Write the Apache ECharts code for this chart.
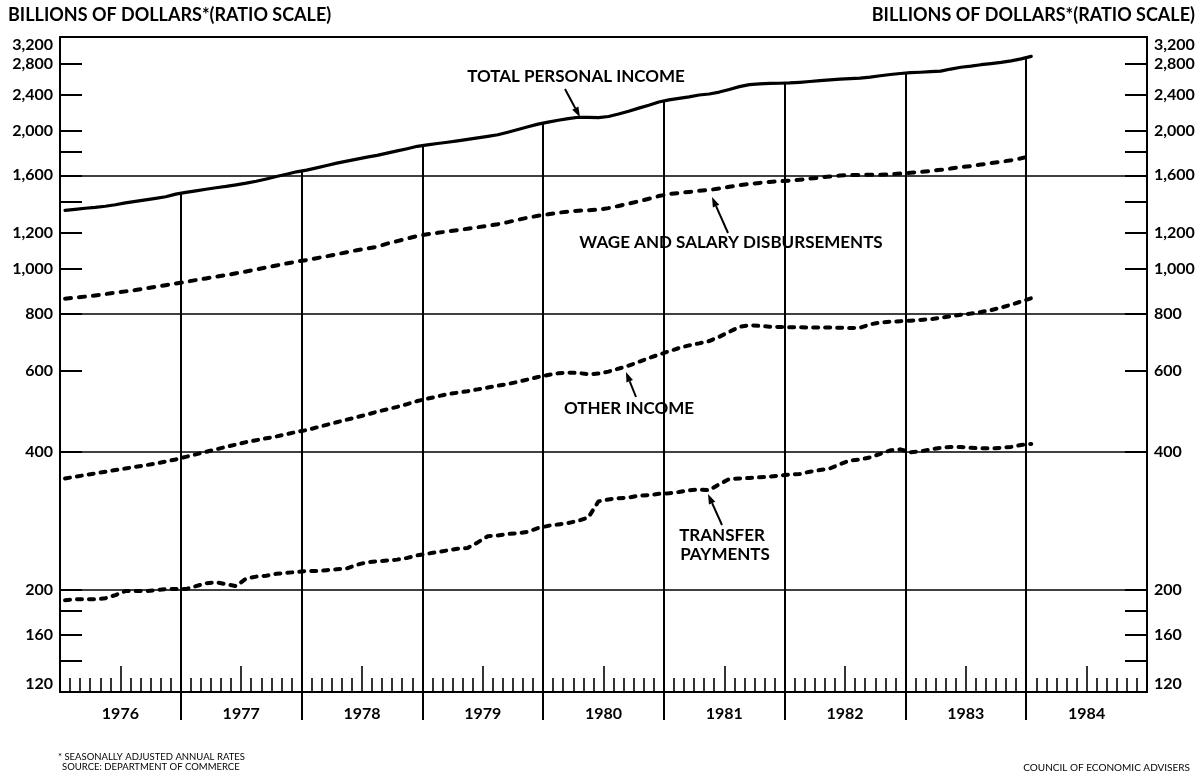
<!DOCTYPE html>
<html><head><meta charset="utf-8">
<script src="https://cdn.jsdelivr.net/npm/echarts@6/dist/echarts.min.js"></script>
<style>html,body{margin:0;padding:0;background:#fff}#c{width:1203px;height:774px}</style>
</head><body><div id="c"></div>
<script>
// ---- DATA (monthly, seasonally adjusted annual rates, billions of dollars; Jan 1976 .. Jan 1984) ----
const yearLabels = ['1976','1977','1978','1979','1980','1981','1982','1983','1984'];
const yTickValues = [120,140,160,180,200,400,600,800,1000,1200,1400,1600,1800,2000,2400,2800,3200];
const yLabelValues = [120,160,200,400,600,800,1000,1200,1600,2000,2400,2800,3200];
const gridLineValues = [200,400,800,1600];

const totalIncome = [
1342,1349,1356,1362,1370,1380,1393,1404,1414,1425,1437,1456,
1468,1480,1492,1503,1513,1525,1538,1553,1570,1590,1608,1628,
1642,1660,1680,1700,1718,1735,1752,1768,1788,1808,1828,1850,
1864,1876,1888,1901,1915,1930,1944,1960,1985,2012,2040,2068,
2088,2108,2125,2140,2138,2136,2148,2175,2205,2240,2272,2310,
2335,2352,2370,2393,2405,2428,2460,2495,2520,2530,2535,2538,
2542,2550,2560,2572,2580,2590,2598,2605,2618,2635,2652,2665,
2676,2682,2690,2697,2725,2750,2765,2785,2800,2818,2840,2868,
2904];
const wageSalary = [
862,866,871,876,882,888,894,900,907,915,922,930,
938,946,954,962,970,979,988,998,1008,1018,1028,1038,
1046,1056,1066,1077,1088,1099,1108,1118,1136,1150,1165,1180,
1190,1199,1207,1215,1224,1233,1242,1252,1265,1280,1294,1306,
1316,1326,1334,1340,1343,1347,1357,1372,1388,1404,1422,1442,
1456,1464,1472,1480,1487,1497,1510,1522,1532,1540,1547,1553,
1558,1565,1573,1582,1590,1598,1601,1603,1605,1604,1608,1614,
1620,1627,1635,1644,1655,1666,1676,1688,1700,1712,1725,1742,
1763];
const otherIncome = [
350,353,356,359,362,365,368,371,374,377,381,385,
390,395,400,405,410,415,420,424,428,432,437,442,
446,452,458,464,470,476,482,489,495,501,508,516,
522,528,534,538,542,547,552,557,562,568,575,582,
588,593,595,594,590,592,598,607,616,628,640,651,
662,673,682,689,697,712,730,748,755,752,749,748,
747,747,746,746,746,745,744,745,758,765,768,770,
772,775,778,783,789,795,800,806,814,824,836,850,
864];
const transferPayments = [
190,191,191,191,192,195,199,199,199,200,201,201,
201,204,207,208,206,204,212,214,215,217,218,219,
220,220,221,222,223,227,230,231,232,233,235,238,
240,242,244,246,247,254,262,263,265,266,268,273,
276,278,280,283,288,312,315,317,318,321,322,324,
325,327,330,331,330,340,349,350,351,352,353,355,
357,358,362,365,368,376,383,385,389,396,403,405,
399,401,405,408,410,410,408,407,407,408,410,414,
416];

// ---- chart ----
const FONT = 'Lato, "Open Sans", sans-serif';
const monthsSpan = yearLabels.length * 12;
const toXY = arr => arr.map((v, i) => [i + 0.5, v]);

const shortTicks = [], midTicks = [], yearBounds = [], yearCenters = [];
for (let m = 1; m < monthsSpan; m++) {
  if (m % 12 === 0) yearBounds.push(m);
  else if (m % 12 === 6) midTicks.push(m);
  else shortTicks.push(m);
}
for (let y = 0; y < yearLabels.length; y++) yearCenters.push(y * 12 + 6);

const boundaryLines = [];
for (let b = 12; b < totalIncome.length; b += 12) {
  const v = Math.sqrt(totalIncome[b - 1] * totalIncome[b]);
  boundaryLines.push([{ coord: [b, 120] }, { coord: [b, v] }]);
}

const grid = { left: 60, top: 37, width: 1087, height: 655 };
const black = '#000';
const baseX = { type: 'value', min: 0, max: monthsSpan, gridIndex: 0, splitLine: { show: false } };
const baseY = { type: 'log', logBase: 10, min: 120, max: 3200, gridIndex: 0, splitLine: { show: false } };

const labelStyle = {
  show: true, customValues: yLabelValues, color: black, fontFamily: FONT, fontSize: 16, fontWeight: 'bold', margin: 7,
  verticalAlignMaxLabel: 'top', verticalAlignMinLabel: 'bottom',
  formatter: v => Number(v).toLocaleString('en-US')
};
function tickAxis(pos) {
  return Object.assign({}, baseY, { position: pos,
    axisLine: { show: true, onZero: false, lineStyle: { color: black, width: 2 } },
    axisTick: { show: true, inside: true, length: 22, customValues: yTickValues, lineStyle: { color: black, width: 2 } },
    axisLabel: { show: false } });
}
function labelAxis(pos) {
  return Object.assign({}, baseY, { position: pos,
    axisLine: { show: false, onZero: false }, axisTick: { show: false },
    axisLabel: labelStyle });
}

const option = {
  animation: false,
  backgroundColor: '#fff',
  grid: grid,
  xAxis: [
    Object.assign({}, baseX, { position: 'bottom',
      axisLine: { show: true, onZero: false, lineStyle: { color: black, width: 2 } },
      axisTick: { show: true, inside: true, length: 14, customValues: shortTicks, lineStyle: { color: black, width: 1.6 } },
      axisLabel: { show: false } }),
    Object.assign({}, baseX, { position: 'bottom',
      axisLine: { show: false, onZero: false },
      axisTick: { show: true, inside: true, length: 26, customValues: midTicks, lineStyle: { color: black, width: 1.6 } },
      axisLabel: { show: false } }),
    Object.assign({}, baseX, { position: 'bottom',
      axisLine: { show: false, onZero: false },
      axisTick: { show: true, inside: false, length: 28, customValues: yearBounds, lineStyle: { color: black, width: 2 } },
      axisLabel: { show: true, customValues: yearCenters, margin: 14, color: black, fontFamily: FONT, fontSize: 16, fontWeight: 'bold',
        formatter: v => yearLabels[Math.round((v - 6) / 12)] } }),
    Object.assign({}, baseX, { position: 'top',
      axisLine: { show: true, onZero: false, lineStyle: { color: black, width: 2 } },
      axisTick: { show: false }, axisLabel: { show: false } })
  ],
  yAxis: [
    tickAxis('left'),
    tickAxis('right'),
    Object.assign({}, baseY, { position: 'left',
      axisLine: { show: false, onZero: false },
      axisTick: { show: false, customValues: gridLineValues },
      axisLabel: { show: false },
      splitLine: { show: true, lineStyle: { color: black, width: 1.6, type: 'solid' } } }),
    labelAxis('left'),
    labelAxis('right')
  ],
  series: [
    { name: 'TOTAL PERSONAL INCOME', type: 'line', xAxisIndex: 0, yAxisIndex: 0, data: toXY(totalIncome),
      showSymbol: false, lineStyle: { color: black, width: 3.2, cap: 'round', join: 'round' }, z: 5,
      markLine: { silent: true, symbol: ['none', 'none'], label: { show: false },
        lineStyle: { color: black, width: 2, type: 'solid' }, data: boundaryLines } },
    { name: 'WAGE AND SALARY DISBURSEMENTS', type: 'line', xAxisIndex: 0, yAxisIndex: 0, data: toXY(wageSalary),
      showSymbol: false, lineStyle: { color: black, width: 4, type: [6, 8], cap: 'round', join: 'round' }, z: 5 },
    { name: 'OTHER INCOME', type: 'line', xAxisIndex: 0, yAxisIndex: 0, data: toXY(otherIncome),
      showSymbol: false, lineStyle: { color: black, width: 4, type: [5, 7], cap: 'round', join: 'round' }, z: 5 },
    { name: 'TRANSFER PAYMENTS', type: 'line', xAxisIndex: 0, yAxisIndex: 0, data: toXY(transferPayments),
      showSymbol: false, lineStyle: { color: black, width: 4, type: [5, 7], cap: 'round', join: 'round' }, z: 5 }
  ]
};

function arrow(x1, y1, x2, y2) {
  const dx = x2 - x1, dy = y2 - y1, L = Math.hypot(dx, dy), ux = dx / L, uy = dy / L;
  const hl = 10, hw = 3.5;
  const bx = x2 - ux * hl, by = y2 - uy * hl;
  return [
    { type: 'line', shape: { x1: x1, y1: y1, x2: bx, y2: by }, style: { stroke: black, lineWidth: 2 }, z: 10 },
    { type: 'polygon', shape: { points: [[x2, y2], [bx - uy * hw, by + ux * hw], [bx + uy * hw, by - ux * hw]] },
      style: { fill: black }, z: 10 }
  ];
}
function txt(s, x, y, size, align, weight) {
  return { type: 'text', x: x, y: y, z: 10,
    style: { text: s, fill: black, font: (weight || 'bold') + ' ' + size + 'px ' + FONT,
      align: align || 'center', verticalAlign: 'middle' } };
}

option.graphic = [].concat(
  txt('BILLIONS OF DOLLARS*(RATIO SCALE)', 8, 15, 18, 'left'),
  txt('BILLIONS OF DOLLARS*(RATIO SCALE)', 1195, 15, 18, 'right'),
  txt('TOTAL PERSONAL INCOME', 576, 77, 17),
  arrow(565, 89, 580, 117),
  txt('WAGE AND SALARY DISBURSEMENTS', 731, 243, 17),
  arrow(728, 233, 712, 197),
  txt('OTHER INCOME', 629, 409, 17),
  arrow(636, 397, 626, 372),
  txt('TRANSFER', 722, 536, 17),
  txt('PAYMENTS', 725, 555, 17),
  arrow(722, 525, 708, 494),
  txt('* SEASONALLY ADJUSTED ANNUAL RATES', 58, 757, 9.5, 'left', 'normal'),
  txt('SOURCE: DEPARTMENT OF COMMERCE', 62, 767, 9.5, 'left', 'normal'),
  txt('COUNCIL OF ECONOMIC ADVISERS', 1190, 768, 10, 'right', 'normal')
);

const chart = echarts.init(document.getElementById('c'), null, { renderer: 'canvas' });
chart.setOption(option);
</script>
</body></html>
